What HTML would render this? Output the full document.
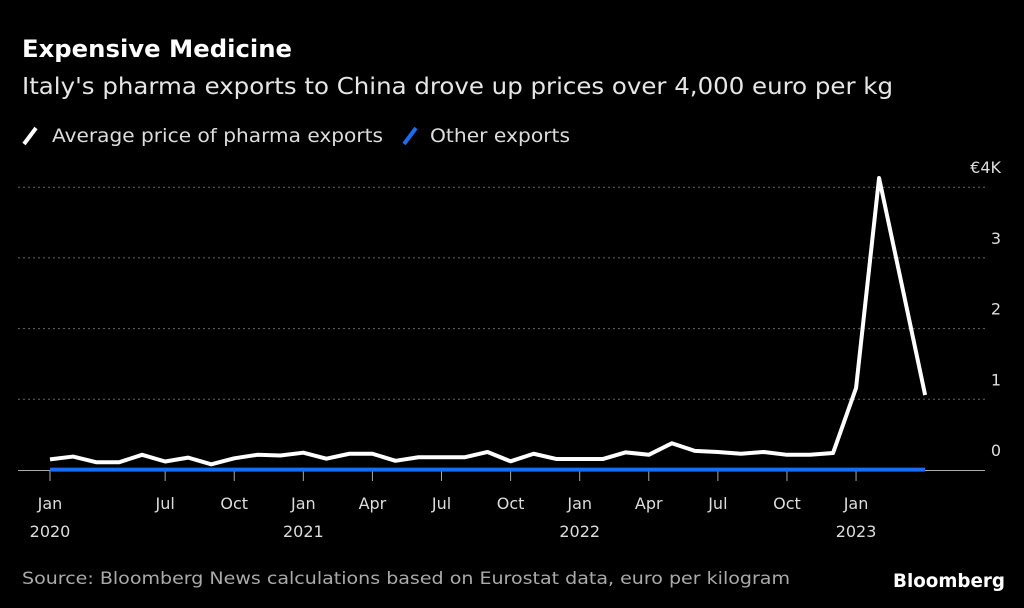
<!DOCTYPE html>
<html><head><meta charset="utf-8"><style>
body{margin:0;background:#000;width:1024px;height:608px;overflow:hidden;font-family:"DejaVu Sans","Liberation Sans",sans-serif;color:#fff}
svg{position:absolute;left:0;top:0}
</style></head><body>
<svg width="1024" height="608">
<text x="22" y="57" font-size="24" font-weight="bold" fill="#fff" textLength="270" lengthAdjust="spacingAndGlyphs">Expensive Medicine</text>
<text x="22" y="94" font-size="23" fill="#e6e6e6" textLength="871" lengthAdjust="spacingAndGlyphs">Italy's pharma exports to China drove up prices over 4,000 euro per kg</text>
<g><line x1="24" y1="144" x2="36" y2="128" stroke="#fff" stroke-width="4"/><text x="52" y="142" font-size="19" fill="#ddd" textLength="331" lengthAdjust="spacingAndGlyphs">Average price of pharma exports</text></g>
<g><line x1="404" y1="144" x2="416" y2="128" stroke="#1a6cf2" stroke-width="4"/><text x="430" y="142" font-size="19" fill="#ddd" textLength="140" lengthAdjust="spacingAndGlyphs">Other exports</text></g>
<g id="grid"></g><g id="ticks"></g><g id="lines"></g>
<text x="22" y="584" font-size="17" fill="#aaa" textLength="768" lengthAdjust="spacingAndGlyphs">Source: Bloomberg News calculations based on Eurostat data, euro per kilogram</text>
<text x="893" y="587" font-size="19" font-weight="bold" fill="#fff" textLength="112" lengthAdjust="spacingAndGlyphs">Bloomberg</text>
</svg>
<script>
// monthly values, Feb 2020 .. Apr 2023
const pharma=[150,190,110,110,215,120,175,80,165,215,205,245,160,230,230,130,180,180,180,255,123,230,155,155,155,250,215,378,270,255,230,255,215,215,240,1160,4130,2600,1060];
const other=[5,5,5,5,5,5,5,5,5,5,5,5,5,5,5,5,5,5,5,5,5,5,5,5,5,5,5,5,5,5,5,5,5,5,5,5,5,5,5];
const yTicks=[0,1000,2000,3000,4000];
const yLabels=["0","1","2","3","€4K"];
const xTickIdx=[-1,5,8,11,14,17,20,23,26,29,32,35];
const xTickLabels=["Jan","Jul","Oct","Jan","Apr","Jul","Oct","Jan","Apr","Jul","Oct","Jan"];
const yearLabels={"-1":"2020","11":"2021","23":"2022","35":"2023"};
const NS="http://www.w3.org/2000/svg";
const x=i=>50+Math.max(i,0)*23.03, y=v=>470-v*0.0707;
function mk(t,a,p){const e=document.createElementNS(NS,t);for(const k in a)e.setAttribute(k,a[k]);p.appendChild(e);return e;}
const g=document.getElementById('grid');
yTicks.forEach((v,i)=>{
 if(v>0){const l=mk('line',{x1:18,x2:985,y1:y(v),y2:y(v),stroke:'#666','stroke-dasharray':'2,3'},g);
 
 }
 const t=mk('text',{x:1001,y:y(v)-14,'font-size':16,fill:'#ddd','text-anchor':'end'},g);t.textContent=yLabels[i];
 
 
});
const base=mk('line',{x1:18,x2:985,y1:470.5,y2:470.5,stroke:'#aaa'},g);


const tk=document.getElementById('ticks');
xTickIdx.forEach((d,k)=>{
 const l=mk('line',{x1:x(d),x2:x(d),y1:471,y2:481,stroke:'#aaa'},tk);
 
 
 const t=mk('text',{x:x(d),y:509,'font-size':16,fill:'#ddd','text-anchor':'middle'},tk);t.textContent=xTickLabels[k];
 
 
 if(yearLabels[d]){const yt=mk('text',{x:x(d),y:537,'font-size':16,fill:'#ddd','text-anchor':'middle'},tk);yt.textContent=yearLabels[d];
 
 }
});
const ln=document.getElementById('lines');
const pb=mk('polyline',{points:other.map((v,i)=>x(i)+','+y(v)).join(' '),fill:'none',stroke:'#1a6cf2','stroke-width':4},ln);


const pw=mk('polyline',{points:pharma.map((v,i)=>x(i)+','+y(v)).join(' '),fill:'none',stroke:'#fff','stroke-width':4,'stroke-linejoin':'round'},ln);


</script>
</body></html>
